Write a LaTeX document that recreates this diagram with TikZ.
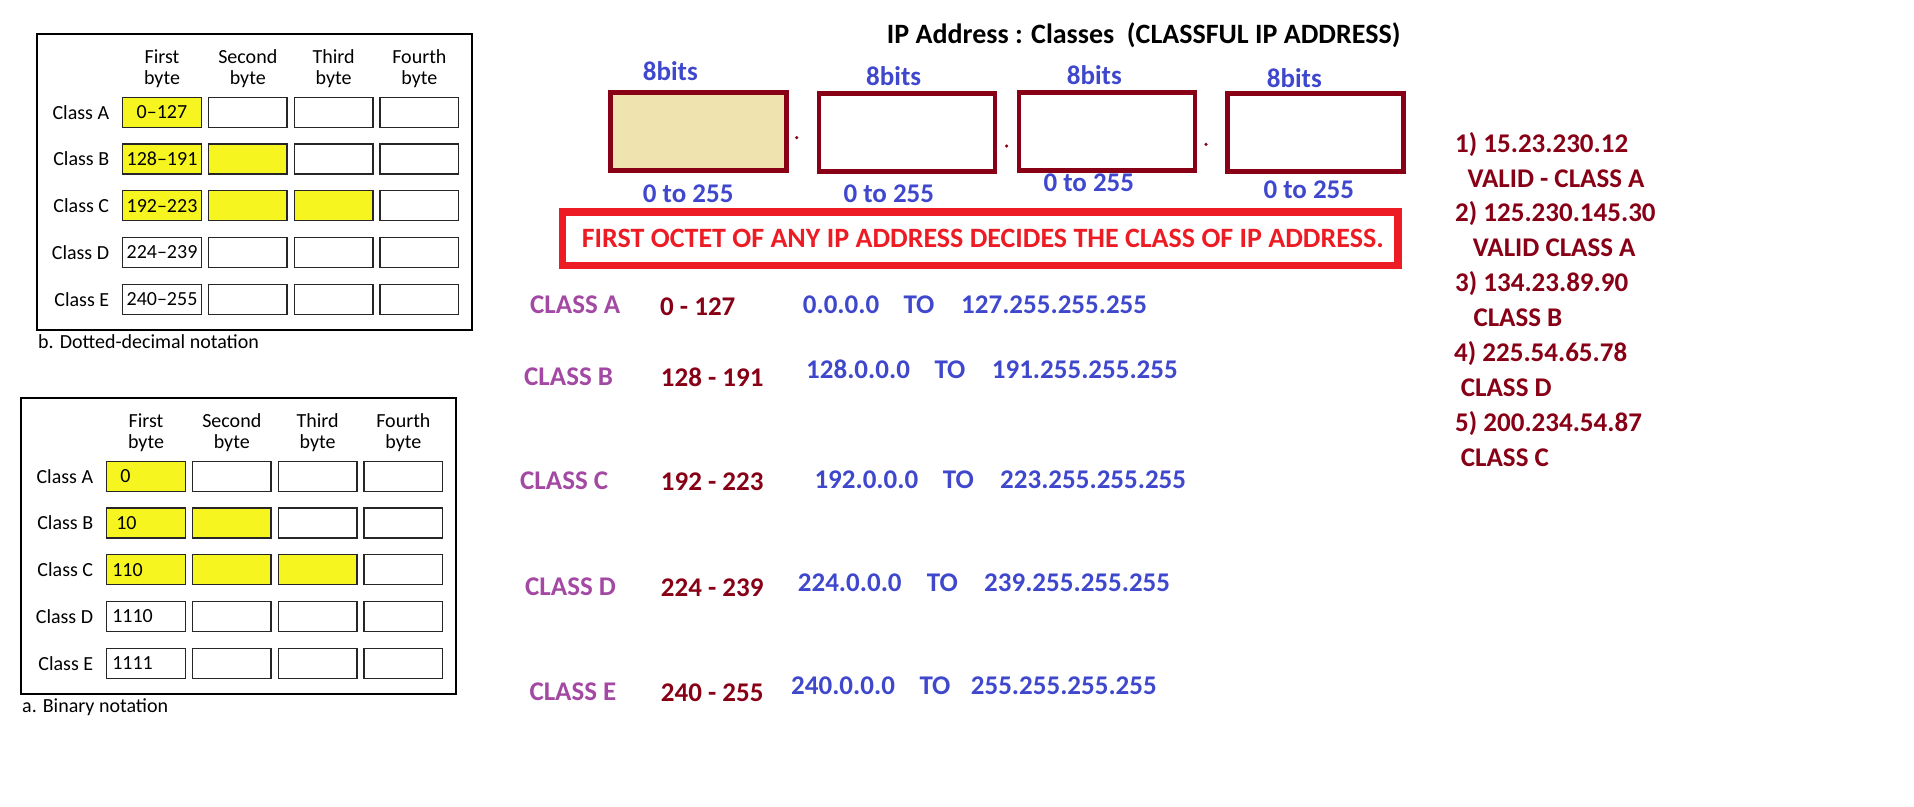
\documentclass[tikz,border=0pt]{standalone}
\usepackage{fontspec}
\setmainfont{Carlito}
\usetikzlibrary{positioning}
\definecolor{darkred}{HTML}{880015}
\definecolor{alertred}{HTML}{ED1C24}
\definecolor{indigo}{HTML}{3F48CC}
\definecolor{classpurple}{HTML}{A349A4}
\definecolor{octettan}{HTML}{EFE4B0}
\definecolor{byteyellow}{HTML}{F7F520}
\tikzset{
  cell/.style={draw=black!85, line width=1.3pt, minimum width=78.6pt, minimum height=30pt, inner sep=0pt},
  rowlab/.style={inner sep=0pt, font=\fontsize{20}{22}\selectfont},
  colhead/.style={inner sep=0pt, align=center, font=\fontsize{20}{21}\selectfont},
  octet/.style={draw=darkred, line width=4.5pt, minimum width=176pt, minimum height=78pt, inner sep=0pt},
  dotmark/.style={circle, fill=darkred, inner sep=0pt, minimum size=3.5pt},
  big/.style={inner sep=0pt, anchor=base west, font=\fontsize{27}{33}\selectfont\bfseries},
  bits/.style={big, text=indigo},
  cls/.style={big, text=classpurple},
  octrange/.style={big, text=darkred},
  addr/.style={big, text=indigo},
  quiz/.style={big, text=darkred},
  notebox/.style={draw=alertred, line width=7.5pt, minimum width=835.5pt, minimum height=53.5pt, inner sep=0pt, text=alertred, font=\fontsize{28}{33}\selectfont\bfseries}
}
\begin{document}
\begin{tikzpicture}[x=1pt, y=-1pt]
\useasboundingbox (0,0) rectangle (1914,806);

% the two byte tables (d = dotted-decimal, b = binary)
\foreach \t/\dx/\dy/\cap in {d/0/0/b. Dotted-decimal notation, b/-16/364/a. Binary notation} {
  \begin{scope}[shift={(\dx,\dy)}]
    \draw[line width=1.6pt] (37,34) rectangle (472,330);
    \foreach \r/\lab in {1/A,2/B,3/C,4/D,5/E} {
      \foreach \c in {1,...,4} {
        \ifnum\c>\r \def\fillc{white}\else\ifnum\r>3 \def\fillc{white}\else\def\fillc{byteyellow}\fi\fi
        \node[cell, fill=\fillc] (\t-\r-\c) at ({162+85.8*(\c-1)},{112.3+46.75*(\r-1)}) {};
      }
      \node[rowlab, left=12.7pt of \t-\r-1] (\t-lab-\r) {Class \lab};
    }
    \foreach \c/\hd in {1/First,2/Second,3/Third,4/Fourth}
      \node[colhead, above=9pt of \t-1-\c] (\t-head-\c) {\hd\\byte};
    \node[rowlab, anchor=base west] (\t-cap) at (38,348) {\cap};
  \end{scope}
}
\foreach \r/\v in {1/0--127,2/128--191,3/192--223,4/224--239,5/240--255}
  \node[rowlab] (dv-\r) at (d-\r-1) {\v};
\foreach \r/\v/\gap in {1/0/14,2/10/10,3/110/6,4/1110/6,5/1111/6}
  \node[rowlab, right=\gap pt of b-\r-1.west] (bv-\r) {\v};

% title and the four octets
\node[big, font=\fontsize{28}{33}\selectfont\bfseries] (title) at (886.7,43.3) {IP Address : Classes\ \ (CLASSFUL IP ADDRESS)};
\node[octet, fill=octettan] (oct1) at (698.5,131.4) {};
\node[octet] (oct2) at (906.8,132.5) {};
\node[octet] (oct3) at (1107.2,131.4) {};
\node[octet] (oct4) at (1315.4,132.5) {};
\node[dotmark] (dot1) at (796.7,137.7) {};
\node[dotmark] (dot2) at (1006.7,146) {};
\node[dotmark] (dot3) at (1206,144.3) {};
\node[bits] (bits1) at (642.7,80.7) {8bits};
\node[bits] (bits2) at (866,85) {8bits};
\node[bits] (bits3) at (1066.7,84) {8bits};
\node[bits] (bits4) at (1266.7,87.3) {8bits};
\node[bits] (low1) at (642.7,202.3) {0 to 255};
\node[bits] (low2) at (843.3,202.7) {0 to 255};
\node[bits] (low3) at (1043.3,191.7) {0 to 255};
\node[bits] (low4) at (1263.3,198.3) {0 to 255};
\node[notebox] (note) at (980.25,238.75) {\hspace{5pt}FIRST OCTET OF ANY IP ADDRESS DECIDES THE CLASS OF IP ADDRESS.};

% class ranges
\node[cls] (clsA) at (530,313.3) {CLASS A};
\node[octrange] (rngA) at (660,315) {0 - 127};
\node[addr] (fromA) at (802.7,313.3) {0.0.0.0};
\node[addr] (toA) at (903.3,313.3) {TO};
\node[addr] (lastA) at (961,313.3) {127.255.255.255};
\node[cls] (clsB) at (524,385) {CLASS B};
\node[octrange] (rngB) at (660.7,386) {128 - 191};
\node[addr] (fromB) at (806,378.3) {128.0.0.0};
\node[addr] (toB) at (934.3,378.3) {TO};
\node[addr] (lastB) at (991.7,378.3) {191.255.255.255};
\node[cls] (clsC) at (520,489) {CLASS C};
\node[octrange] (rngC) at (660.7,490.7) {192 - 223};
\node[addr] (fromC) at (814.3,488.3) {192.0.0.0};
\node[addr] (toC) at (942.7,488.3) {TO};
\node[addr] (lastC) at (1000,488.3) {223.255.255.255};
\node[cls] (clsD) at (525,595.7) {CLASS D};
\node[octrange] (rngD) at (660.7,596) {224 - 239};
\node[addr] (fromD) at (797.7,591) {224.0.0.0};
\node[addr] (toD) at (926.7,591) {TO};
\node[addr] (lastD) at (984,591) {239.255.255.255};
\node[cls] (clsE) at (529.3,700) {CLASS E};
\node[octrange] (rngE) at (660.7,701) {240 - 255};
\node[addr] (fromE) at (791,694) {240.0.0.0};
\node[addr] (toE) at (919.3,694) {TO};
\node[addr] (lastE) at (970.7,694) {255.255.255.255};

% examples
\foreach \x/\y/\s [count=\i] in {1455/152.7/1) 15.23.230.12, 1467.3/187.3/VALID - CLASS A,
    1455/221.7/2) 125.230.145.30, 1472.7/256.7/VALID CLASS A, 1455/291.7/3) 134.23.89.90,
    1473.3/326.7/CLASS B, 1454/361.7/4) 225.54.65.78, 1460.7/396.7/CLASS D,
    1455/431.7/5) 200.234.54.87, 1460.7/466/CLASS C}
  \node[quiz] (ex\i) at (\x,\y) {\s};
\end{tikzpicture}
\end{document}
